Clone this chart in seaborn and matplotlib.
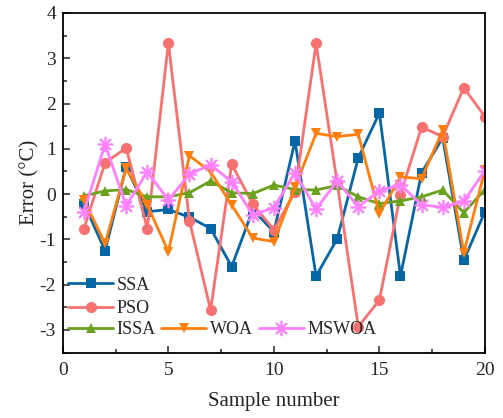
import numpy as np
import pandas as pd
import matplotlib
matplotlib.use("Agg")
import matplotlib.pyplot as plt
import seaborn as sns
from matplotlib.ticker import MultipleLocator

samples = list(range(1, 21))
ssa = [-0.21, -1.25, 0.60, -0.39, -0.34, -0.51, -0.76, -1.60, -0.35, -0.83,
       1.17, -1.81, -0.99, 0.80, 1.79, -1.81, 0.47, 1.24, -1.46, -0.39]
pso = [-0.76, 0.69, 1.02, -0.76, 3.34, -0.59, -2.56, 0.66, -0.22, -0.79,
       0.05, 3.33, 0.25, -2.93, -2.34, -0.01, 1.48, 1.27, 2.35, 1.71]
issa = [-0.04, 0.07, 0.10, -0.06, -0.06, 0.03, 0.29, 0.03, 0.01, 0.20,
        0.10, 0.09, 0.19, -0.06, -0.21, -0.15, -0.06, 0.09, -0.41, 0.10]
woa = [-0.13, -1.09, 0.57, -0.24, -1.27, 0.85, 0.49, -0.24, -0.97, -1.05,
       0.15, 1.34, 1.27, 1.32, -0.43, 0.38, 0.34, 1.41, -1.30, 0.53]
mswoa = [-0.39, 1.10, -0.26, 0.49, -0.13, 0.44, 0.65, 0.27, -0.46, -0.30,
         0.47, -0.33, 0.29, -0.28, 0.07, 0.21, -0.24, -0.29, -0.16, 0.52]

series = [
    ("SSA", ssa, "#0767A6", "s", 7),
    ("PSO", pso, "#F87171", "o", 8),
    ("ISSA", issa, "#6AA11E", "^", 7.5),
    ("WOA", woa, "#FF7F0E", "v", 7.5),
    ("MSWOA", mswoa, "#FF80FF", (8, 2, 0), 11),
]

sns.set_style("ticks")
plt.rcParams['font.family'] = ['Liberation Serif', 'DejaVu Serif']
plt.rcParams['axes.unicode_minus'] = False

fig = plt.figure(figsize=(5.03, 4.18), dpi=100)
ax = fig.add_axes([0.125, 0.1565, 0.839, 0.8125])

for name, vals, col, mk, ms in series:
    df = pd.DataFrame({"Sample": samples, "Error": vals})
    mew = 1.2 if name == "MSWOA" else 0
    sns.lineplot(data=df, x="Sample", y="Error", ax=ax, color=col, marker=mk,
                 markersize=ms, markeredgecolor=col, markeredgewidth=mew,
                 linewidth=2, label=name, legend=False)

ax.set_xlim(0, 20)
ax.set_ylim(-3.5, 4)
ax.xaxis.set_major_locator(MultipleLocator(5))
ax.xaxis.set_minor_locator(MultipleLocator(2.5))
ax.yaxis.set_major_locator(MultipleLocator(1))
ax.yaxis.set_minor_locator(MultipleLocator(0.5))
ax.tick_params(which='both', direction='in', top=False, right=False, labelsize=14, width=1.1)
ax.tick_params(axis='x', which='major', pad=6.5)
ax.tick_params(axis='y', which='major', pad=5)
ax.tick_params(which='major', length=5)
ax.tick_params(which='minor', length=3)
for s in ax.spines.values():
    s.set_linewidth(1.3)
    s.set_color('black')
ax.set_xlabel("Sample number", fontsize=15, labelpad=10)
ax.set_ylabel("Error (°C)", fontsize=15, labelpad=0)

h = {l.get_label(): l for l in ax.get_lines()}
leg1 = ax.legend([h["SSA"], h["PSO"]], ["SSA", "PSO"], loc='center left',
                 bbox_to_anchor=(0.012, 0.164), frameon=False, fontsize=13,
                 handlelength=2.5, handletextpad=0.2, borderpad=0, borderaxespad=0,
                 labelspacing=0.35, numpoints=1)
ax.add_artist(leg1)
ax.legend([h["ISSA"], h["WOA"], h["MSWOA"]], ["ISSA", "WOA", "MSWOA"], loc='center left',
          bbox_to_anchor=(0.012, 0.0665), frameon=False, fontsize=13, ncol=3,
          handlelength=2.5, handletextpad=0.2, borderpad=0, borderaxespad=0,
          columnspacing=0.3, numpoints=1)

fig.savefig("out.png", dpi=100)
